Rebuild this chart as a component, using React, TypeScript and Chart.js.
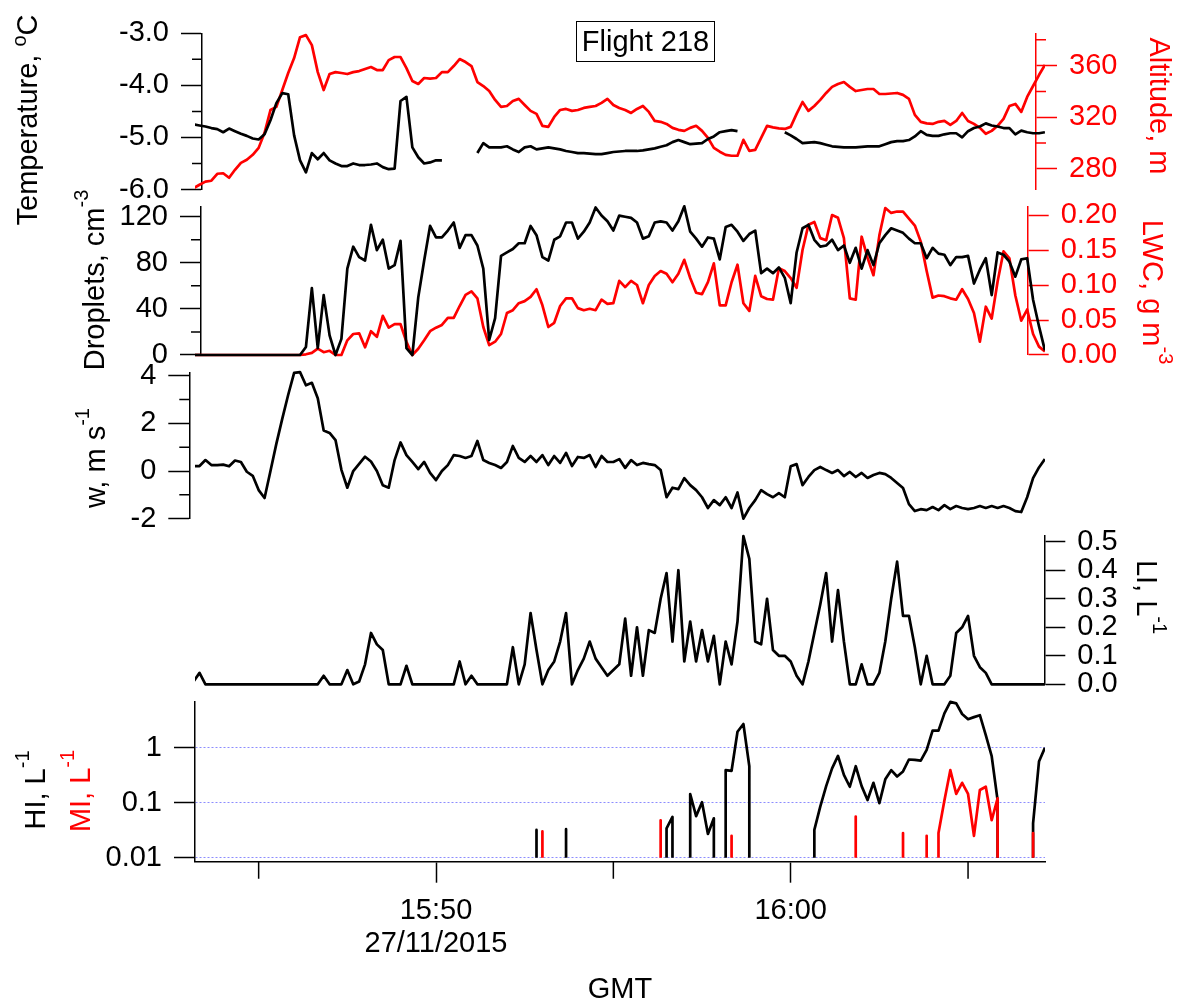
import React, { useEffect, useRef } from "react";
import { Chart, registerables } from "chart.js";

Chart.register(...registerables);

const FONT = "'Liberation Sans', Arial, Helvetica, sans-serif";
Chart.defaults.font.family = FONT;

// ---------------- data (10 s samples) ----------------
const START_CLOCK = "15:43:10";
const STEP_SECONDS = 10;

const temperature = [
  -4.75,-4.77,-4.79,-4.82,-4.84,-4.90,-4.83,-4.88,-4.93,-4.97,
  -5.02,-5.04,-4.94,-4.67,-4.34,-4.15,-4.17,-4.96,-5.44,-5.67,
  -5.30,-5.42,-5.30,-5.44,-5.50,-5.55,-5.55,-5.50,-5.53,-5.53,
  -5.52,-5.50,-5.57,-5.61,-5.60,-4.30,-4.22,-5.19,-5.38,-5.50,
  -5.48,-5.44,-5.44,null,null,null,null,null,-5.30,-5.11,
  -5.19,-5.19,-5.19,-5.17,-5.23,-5.28,-5.19,-5.17,-5.23,-5.21,
  -5.19,-5.21,-5.23,-5.26,-5.28,-5.30,-5.30,-5.31,-5.32,-5.32,
  -5.30,-5.28,-5.27,-5.26,-5.26,-5.26,-5.25,-5.23,-5.21,-5.18,
  -5.15,-5.09,-5.05,-5.09,-5.13,-5.12,-5.11,-5.03,-4.98,-4.90,
  -4.88,-4.86,-4.88,null,null,null,null,null,null,null,
  -4.90,-4.96,-5.03,-5.11,-5.10,-5.09,-5.11,-5.14,-5.17,-5.18,
  -5.19,-5.19,-5.19,-5.18,-5.17,-5.17,-5.17,-5.13,-5.09,-5.07,
  -5.07,-5.05,-4.98,-4.88,-4.95,-4.97,-4.97,-4.94,-4.92,-4.92,
  -5.00,-4.88,-4.82,-4.79,-4.73,-4.77,-4.79,-4.82,-4.82,-4.94,
  -4.87,-4.90,-4.92,-4.92,-4.90,
];

const altitude = [
  264.9,267.6,270.0,270.7,276.1,276.5,273.0,279.2,284.6,287.0,
  290.8,296.2,307.9,325.6,328.0,341.1,354.3,365.9,382.1,383.7,
  375.9,355.0,341.1,353.5,355.0,354.3,353.5,355.0,355.8,357.4,
  358.9,356.6,356.6,364.3,366.7,366.7,358.1,348.1,345.8,350.4,
  350.0,350.4,355.0,355.0,359.7,365.1,362.8,359.7,347.3,344.2,
  340.3,333.4,328.0,328.7,332.6,334.2,329.5,324.9,322.6,313.3,
  312.5,320.2,325.6,326.4,324.9,325.6,327.2,328.0,328.7,331.1,
  334.2,329.5,327.2,325.6,323.3,326.4,328.7,324.1,317.1,316.4,
  314.8,311.7,310.2,309.4,311.7,313.3,309.4,304.0,296.2,293.2,
  290.8,290.1,290.1,302.4,293.9,294.7,304.0,313.3,312.1,311.3,
  310.9,312.5,322.6,331.8,324.9,328.7,333.4,338.8,343.5,345.8,
  347.3,343.5,340.3,341.1,341.9,341.9,338.0,338.0,338.4,338.8,
  337.3,334.2,321.8,316.4,315.2,314.8,316.4,317.1,314.0,317.1,
  323.3,317.1,314.8,311.7,307.1,309.4,313.3,318.7,328.7,330.3,
  324.1,335.7,344.2,352.7,360.5,
];

const droplets = [
  0,0,0,0,0,0,0,0,0,0,
  0,0,0,0,0,0,0,0,0,7,
  58,6,52,17,0,14,75,94,85,82,
  113,91,100,75,78,99,6,0,50,82,
  112,102,102,108,115,93,104,104,95,75,
  13,32,86,89,92,97,97,112,104,85,
  82,100,103,115,115,101,107,115,128,121,
  116,108,121,120,119,115,101,103,115,116,
  115,108,116,129,107,101,94,102,101,83,
  111,113,107,99,105,108,71,75,71,76,
  67,45,89,110,113,100,94,95,100,91,
  95,80,93,75,91,78,97,104,110,108,
  106,101,97,97,84,93,88,87,78,85,
  85,86,62,74,84,52,89,87,81,68,
  83,84,48,25,4,
];

const lwc = [
  0,0,0,0,0,0,0,0,0,0,
  0,0,0,0,0,0,0,0,0,0.001,
  0.003,0.009,0.004,0.006,0,0,0.021,0.030,0.031,0.011,
  0.034,0.026,0.056,0.039,0.044,0.044,0.019,0,0.009,0.021,
  0.034,0.039,0.043,0.053,0.053,0.070,0.086,0.091,0.081,0.040,
  0.014,0.019,0.030,0.060,0.064,0.074,0.077,0.083,0.094,0.071,
  0.040,0.046,0.070,0.081,0.081,0.067,0.064,0.066,0.064,0.079,
  0.073,0.074,0.106,0.097,0.106,0.100,0.074,0.100,0.113,0.120,
  0.116,0.104,0.116,0.136,0.110,0.089,0.087,0.104,0.131,0.071,
  0.071,0.104,0.129,0.074,0.063,0.113,0.084,0.080,0.079,0.124,
  0.120,0.110,0.096,0.150,0.186,0.190,0.167,0.164,0.200,0.196,
  0.167,0.081,0.079,0.169,0.139,0.114,0.171,0.210,0.203,0.205,
  0.205,0.195,0.185,0.162,0.120,0.082,0.085,0.084,0.081,0.079,
  0.094,0.080,0.060,0.019,0.069,0.052,0.105,0.148,0.138,0.085,
  0.049,0.065,0.030,0.012,0.005,
];

const verticalWind = [
  0.21,0.21,0.46,0.25,0.25,0.27,0.20,0.44,0.38,-0.03,
  -0.20,-0.80,-1.13,0.00,1.15,2.20,3.20,4.12,4.15,3.60,
  3.70,3.05,1.70,1.60,1.30,0.05,-0.70,0.00,0.30,0.60,
  0.40,0.00,-0.60,-0.70,0.46,1.20,0.67,0.38,0.08,0.38,
  -0.08,-0.38,0.00,0.25,0.67,0.63,0.55,0.63,1.26,0.46,
  0.34,0.25,0.13,0.38,1.05,0.55,0.38,0.63,0.38,0.67,
  0.25,0.63,0.34,0.76,0.21,0.59,0.55,0.67,0.17,0.63,
  0.38,0.38,0.50,0.13,0.46,0.25,0.34,0.29,0.25,0.04,
  -1.10,-0.70,-0.76,-0.30,-0.59,-0.80,-1.10,-1.55,-1.22,-1.43,
  -1.10,-1.55,-0.90,-2.00,-1.55,-1.22,-0.80,-0.97,-1.10,-0.93,
  -1.10,0.20,0.29,-0.59,-0.25,0.04,0.17,0.04,-0.08,0.04,
  -0.21,-0.04,-0.25,-0.08,-0.29,-0.17,-0.08,-0.13,-0.29,-0.50,
  -0.71,-1.39,-1.68,-1.60,-1.64,-1.51,-1.64,-1.43,-1.60,-1.47,
  -1.55,-1.60,-1.55,-1.47,-1.55,-1.47,-1.55,-1.47,-1.55,-1.68,
  -1.72,-1.10,-0.30,0.15,0.50,
];

const liConc = [
  0.01,0.04,0,0,0,0,0,0,0,0,
  0,0,0,0,0,0,0,0,0,0,
  0,0,0.03,0,0,0,0.05,0,0.01,0.07,
  0.18,0.14,0.12,0,0,0,0.065,0,0,0,
  0,0,0,0,0,0.08,0,0.03,0,0,
  0,0,0,0,0.13,0,0.07,0.25,0.12,0,
  0.05,0.08,0.15,0.25,0,0.05,0.09,0.15,0.09,0.06,
  0.03,0.05,0.07,0.23,0.03,0.20,0.03,0.19,0.18,0.30,
  0.39,0.15,0.40,0.08,0.22,0.08,0.19,0.08,0.17,0,
  0.15,0.07,0.22,0.52,0.44,0.15,0.14,0.30,0.12,0.10,
  0.10,0.08,0.03,0,0.08,0.18,0.28,0.39,0.15,0.33,
  0.15,0,0,0.07,0,0,0.04,0.15,0.30,0.43,
  0.24,0.24,0.13,0,0.10,0,0,0,0.03,0.18,
  0.20,0.24,0.10,0.06,0.04,0,0,0,0,0,
  0,0,0,0,0,
];

const hiConc = [
  0,0,0,0,0,0,0,0,0,0,
  0,0,0,0,0,0,0,0,0,0,
  0,0,0,0,0,0,0,0,0,0,
  0,0,0,0,0,0,0,0,0,0,
  0,0,0,0,0,0,0,0,0,0,
  0,0,0,0,0,0,0,0,0.032,0,
  0,0,0,0.033,0,0,0,0,0,0,
  0,0,0,0,0,0,0,0,0,0,
  0.034,0.055,0,0,0.144,0.057,0.102,0.027,0.052,0,
  0.39,0.38,1.95,2.7,0.46,0,0,0,0,0,
  0,0,0,0,0,0.032,0.085,0.2,0.42,0.71,
  0.32,0.195,0.46,0.2,0.112,0.23,0.098,0.266,0.39,0.3,
  0.37,0.61,0.6,0.58,0.91,2.04,2.04,4.2,6.8,6.4,
  4.1,3.3,3.6,3.9,1.7,0.7,0.11,0,0,0,
  0,0,0.042,0.56,1.0,
];

const miConc = [
  0,0,0,0,0,0,0,0,0,0,
  0,0,0,0,0,0,0,0,0,0,
  0,0,0,0,0,0,0,0,0,0,
  0,0,0,0,0,0,0,0,0,0,
  0,0,0,0,0,0,0,0,0,0,
  0,0,0,0,0,0,0,0,0,0.030,
  0,0,0,0,0,0,0,0,0,0,
  0,0,0,0,0,0,0,0,0,0.048,
  0,0,0,0,0,0,0,0,0,0,
  0,0.025,0,0,0,0,0,0,0,0,
  0,0,0,0,0,0,0,0,0,0,
  0,0,0.056,0,0,0,0,0,0,0,
  0.028,0,0,0,0.025,0,0.028,0.11,0.39,0.144,
  0.23,0.144,0.025,0.17,0.195,0.048,0.12,0,0,0,
  0,0,0.028,0,0,
];

// ---------------- axis ticks ----------------
const tempTicks = [-6, -5, -4, -3];
const tempMinor = [-5.5, -4.5, -3.5];
const altTicks = [280, 320, 360];
const altMinor = [300, 340, 380];
const dropTicks = [0, 40, 80, 120];
const dropMinor = [20, 60, 100];
const lwcTicks = [0, 0.05, 0.1, 0.15, 0.2];
const wTicks = [-2, 0, 2, 4];
const wMinor = [-1, 1, 3];
const liTicks = [0, 0.1, 0.2, 0.3, 0.4, 0.5];
const hiTicks = [0.01, 0.1, 1];
const timeMajor = ["15:50", "16:00"];
const timeMinor = ["15:45", "15:55", "16:05"];
const dateLabel = "27/11/2015";

// ---------------- layout ----------------
const W = 1192;
const H = 1001;
const RED = "#ff0000";
const BLACK = "#000000";
const LINE_W = 2.7;
const AXIS_W = 1.5;
const TICK_LEN = 21;
const MINOR_LEN = 10;
const FS = 29;
const SUP = 20;

const toSec = (hms: string) => {
  const p = hms.split(":").map(Number);
  return p[0] * 3600 + p[1] * 60 + (p[2] || 0);
};
const T0 = toSec(START_CLOCK);
const times = temperature.map((_, i) => T0 + i * STEP_SECONDS);

const REF_SEC = toSec("16:00");
const REF_PX = 790.7;
const PX_PER_SEC = 35.47 / 60;
const PLOT_LEFT = 195;
const PLOT_RIGHT = 1045;
const secAt = (px: number) => REF_SEC + (px - REF_PX) / PX_PER_SEC;

const pts = (arr: (number | null)[]) => arr.map((v, i) => ({ x: times[i], y: v }));

const LOG_FLOOR = 1e-4;
function logRuns(arr: number[]) {
  const out: { x: number; y: number | null }[] = [];
  const n = arr.length;
  for (let i = 0; i < n; i++) {
    const v = arr[i];
    if (!(v > 0)) continue;
    const prevOn = i > 0 && arr[i - 1] > 0;
    const nextOn = i < n - 1 && arr[i + 1] > 0;
    if (!prevOn) {
      if (out.length) out.push({ x: times[i], y: null });
      if (i > 0) out.push({ x: times[i], y: LOG_FLOOR });
    }
    out.push({ x: times[i], y: v });
    if (!nextOn && i < n - 1) out.push({ x: times[i], y: LOG_FLOOR });
  }
  return out;
}

const font = (size: number) => `${size}px ${FONT}`;

type Part = { t: string; sup?: boolean; rise?: number };
type TitleSpec = { parts: Part[]; x: number; y: number; rot: number; color: string };

const richTitles = {
  id: "richTitles",
  afterDraw(chart: any, _a: any, opts: any) {
    const ctx = chart.ctx as CanvasRenderingContext2D;
    (opts.items || []).forEach((t: TitleSpec) => {
      ctx.save();
      ctx.translate(t.x, t.y);
      ctx.rotate((t.rot * Math.PI) / 180);
      ctx.fillStyle = t.color;
      ctx.textBaseline = "alphabetic";
      ctx.textAlign = "left";
      const widths = t.parts.map((p) => {
        ctx.font = font(p.sup ? SUP : FS);
        return ctx.measureText(p.t).width;
      });
      const total = widths.reduce((a, b) => a + b, 0);
      let x = -total / 2;
      t.parts.forEach((p, k) => {
        ctx.font = font(p.sup ? SUP : FS);
        ctx.fillText(p.t, x, -(p.rise || 0));
        x += widths[k];
      });
      ctx.restore();
    });
  },
};

const minorTicks = {
  id: "minorTicks",
  afterDraw(chart: any, _a: any, opts: any) {
    const ctx = chart.ctx as CanvasRenderingContext2D;
    (opts.items || []).forEach((m: any) => {
      const s = chart.scales[m.scale];
      if (!s) return;
      ctx.save();
      ctx.strokeStyle = m.color;
      ctx.lineWidth = AXIS_W;
      ctx.beginPath();
      m.values.forEach((v: number) => {
        const p = s.getPixelForValue(v);
        if (s.isHorizontal()) {
          ctx.moveTo(p, s.top);
          ctx.lineTo(p, s.top + m.length);
        } else if (s.position === "left") {
          ctx.moveTo(s.right, p);
          ctx.lineTo(s.right - m.length, p);
        } else {
          ctx.moveTo(s.left, p);
          ctx.lineTo(s.left + m.length, p);
        }
      });
      ctx.stroke();
      ctx.restore();
    });
  },
};

function yAxis(o: {
  position: "left" | "right";
  min: number;
  max: number;
  ticks: number[];
  fmt: (v: number) => string;
  color: string;
  width: number;
  type?: string;
  gridLines?: boolean;
}) {
  return {
    type: o.type || "linear",
    position: o.position,
    min: o.min,
    max: o.max,
    bounds: "data",
    afterBuildTicks: (s: any) => {
      s.ticks = o.ticks.map((v) => ({ value: v }));
    },
    afterFit: (s: any) => {
      s.width = o.width;
    },
    ticks: {
      color: o.color,
      font: { family: FONT, size: FS },
      padding: 12,
      autoSkip: false,
      maxRotation: 0,
      callback: (v: any) => o.fmt(Number(v)),
    },
    grid: {
      display: true,
      drawOnChartArea: !!o.gridLines,
      drawTicks: true,
      tickLength: TICK_LEN,
      tickWidth: AXIS_W,
      tickColor: o.color,
      color: o.gridLines ? "rgba(120,120,255,0.85)" : o.color,
      lineWidth: 1,
      tickBorderDash: [],
    },
    border: { display: true, color: o.color, width: AXIS_W, dash: o.gridLines ? [2, 2] : [] },
  };
}

type Panel = {
  left: number;
  right: number;
  top: number;
  bottom: number;
  padLeft: number;
  padRight: number;
  datasets: any[];
  scales: any;
  showX?: boolean;
  titles: TitleSpec[];
  minors: any[];
};

function makeConfig(p: Panel) {
  const xMin = secAt(p.left);
  const xMax = secAt(p.right);
  // range set after data limits so that every sample is handed to the line (clipping does the rest)
  const setRange = (s: any) => {
    s.min = xMin;
    s.max = xMax;
  };
  const xScale = p.showX
    ? {
        type: "linear",
        position: "bottom",
        bounds: "data",
        afterDataLimits: setRange,
        afterBuildTicks: (s: any) => {
          s.ticks = timeMajor.map((t) => ({ value: toSec(t) }));
        },
        afterFit: (s: any) => {
          s.height = H - p.bottom;
        },
        ticks: {
          color: BLACK,
          font: { family: FONT, size: FS, lineHeight: 1.14 },
          padding: 12,
          autoSkip: false,
          maxRotation: 0,
          callback: (v: any) => {
            const k = timeMajor.findIndex((t) => toSec(t) === Number(v));
            if (k < 0) return "";
            return k === 0 ? [timeMajor[k], dateLabel] : timeMajor[k];
          },
        },
        grid: {
          display: true,
          drawOnChartArea: false,
          drawTicks: true,
          tickLength: TICK_LEN,
          tickWidth: AXIS_W,
          tickColor: BLACK,
        },
        border: { display: true, color: BLACK, width: AXIS_W },
      }
    : { type: "linear", display: false, bounds: "data", afterDataLimits: setRange };

  return {
    type: "line",
    data: {
      datasets: p.datasets.map((d) => ({
        pointRadius: 0,
        pointHoverRadius: 0,
        borderWidth: LINE_W,
        tension: 0,
        fill: false,
        spanGaps: false,
        borderJoinStyle: "round",
        ...d,
        clip: {
          left: p.left - PLOT_LEFT,
          right: PLOT_RIGHT - p.right,
          top: 3,
          bottom: d.clipBottom !== undefined ? d.clipBottom : 3,
        },
      })),
    },
    options: {
      animation: false,
      responsive: false,
      maintainAspectRatio: false,
      events: [],
      layout: {
        padding: {
          left: p.padLeft,
          right: p.padRight,
          top: p.top,
          bottom: p.showX ? 0 : H - p.bottom,
        },
      },
      plugins: {
        legend: { display: false },
        tooltip: { enabled: false },
        title: { display: false },
        richTitles: { items: p.titles },
        minorTicks: { items: p.minors },
      },
      scales: { x: xScale, ...p.scales },
    },
    plugins: [richTitles, minorTicks],
  };
}

// Panel 1: temperature & altitude
const panel1: Panel = {
  left: 202, right: 1036, top: 33.3, bottom: 189.5, padLeft: 0, padRight: 0,
  datasets: [
    { data: pts(temperature), borderColor: BLACK, yAxisID: "yT" },
    { data: pts(altitude), borderColor: RED, yAxisID: "yA" },
  ],
  scales: {
    yT: yAxis({ position: "left", min: -6, max: -3, ticks: tempTicks, fmt: (v) => v.toFixed(1), color: BLACK, width: 202 }),
    yA: yAxis({ position: "right", min: 263.9, max: 385.1, ticks: altTicks, fmt: (v) => v.toFixed(0), color: RED, width: W - 1036 }),
  },
  titles: [
    { parts: [{ t: "Temperature, " }, { t: "o", sup: true, rise: 11 }, { t: "C" }], x: 37, y: 120, rot: -90, color: BLACK },
    { parts: [{ t: "Altitude, m" }], x: 1150, y: 106, rot: 90, color: RED },
  ],
  minors: [
    { scale: "yT", values: tempMinor, length: MINOR_LEN, color: BLACK },
    { scale: "yA", values: altMinor, length: MINOR_LEN, color: RED },
  ],
};

// Panel 2: droplets & LWC
const panel2: Panel = {
  left: 201, right: 1027.7, top: 206.7, bottom: 355, padLeft: 0, padRight: 0,
  datasets: [
    { data: pts(droplets), borderColor: BLACK, yAxisID: "yD" },
    { data: pts(lwc), borderColor: RED, yAxisID: "yL" },
  ],
  scales: {
    yD: yAxis({ position: "left", min: 0, max: 128.7, ticks: dropTicks, fmt: (v) => v.toFixed(0), color: BLACK, width: 201 }),
    yL: yAxis({ position: "right", min: 0, max: 0.2119, ticks: lwcTicks, fmt: (v) => v.toFixed(2), color: RED, width: W - 1027.7 }),
  },
  titles: [
    { parts: [{ t: "Droplets, cm" }, { t: "-3", sup: true, rise: 16 }], x: 104, y: 280, rot: -90, color: BLACK },
    { parts: [{ t: "LWC, g m" }, { t: "-3", sup: true, rise: 16 }], x: 1143, y: 292, rot: 90, color: RED },
  ],
  minors: [{ scale: "yD", values: dropMinor, length: MINOR_LEN, color: BLACK }],
};

// Panel 3: vertical wind
const panel3: Panel = {
  left: 189.3, right: 1045, top: 372.7, bottom: 518.7, padLeft: 0, padRight: W - 1045,
  datasets: [{ data: pts(verticalWind), borderColor: BLACK, yAxisID: "yW" }],
  scales: {
    yW: yAxis({ position: "left", min: -2, max: 4.126, ticks: wTicks, fmt: (v) => v.toFixed(0), color: BLACK, width: 189.3 }),
  },
  titles: [
    { parts: [{ t: "w, m s" }, { t: "-1", sup: true, rise: 16 }], x: 105, y: 458, rot: -90, color: BLACK },
  ],
  minors: [{ scale: "yW", values: wMinor, length: MINOR_LEN, color: BLACK }],
};

// Panel 4: LI
const panel4: Panel = {
  left: 195, right: 1044.3, top: 536, bottom: 684.3, padLeft: 195, padRight: 0,
  datasets: [{ data: pts(liConc), borderColor: BLACK, yAxisID: "yLI" }],
  scales: {
    yLI: yAxis({ position: "right", min: 0, max: 0.52, ticks: liTicks, fmt: (v) => v.toFixed(1), color: BLACK, width: W - 1044.3 }),
  },
  titles: [
    { parts: [{ t: "LI, L" }, { t: "-1", sup: true, rise: 16 }], x: 1137, y: 597, rot: 90, color: BLACK },
  ],
  minors: [],
};

// Panel 5: HI & MI (log)
const panel5: Panel = {
  left: 195, right: 1045, top: 701.7, bottom: 861.7, padLeft: 0, padRight: W - 1045, showX: true,
  datasets: [
    { data: logRuns(miConc), borderColor: RED, yAxisID: "yH", clipBottom: -4 },
    { data: logRuns(hiConc), borderColor: BLACK, yAxisID: "yH", clipBottom: -4 },
  ],
  scales: {
    yH: yAxis({
      type: "logarithmic", position: "left", min: 0.00846, max: 6.86, ticks: hiTicks,
      fmt: (v) => (v >= 1 ? v.toFixed(0) : v >= 0.1 ? v.toFixed(1) : v.toFixed(2)),
      color: BLACK, width: 195, gridLines: true,
    }),
  },
  titles: [
    { parts: [{ t: "HI, L" }, { t: "-1", sup: true, rise: 16 }], x: 45, y: 790, rot: -90, color: BLACK },
    { parts: [{ t: "MI, L" }, { t: "-1", sup: true, rise: 16 }], x: 90, y: 791, rot: -90, color: RED },
    { parts: [{ t: "GMT" }], x: 620, y: 998, rot: 0, color: BLACK },
  ],
  minors: [{ scale: "x", values: timeMinor.map(toSec), length: 17, color: BLACK }],
};

function PanelChart({ panel }: { panel: Panel }) {
  const ref = useRef<HTMLCanvasElement | null>(null);
  useEffect(() => {
    if (!ref.current) return;
    const chart = new Chart(ref.current, makeConfig(panel) as any);
    return () => chart.destroy();
  }, [panel]);
  return (
    <canvas
      ref={ref}
      width={W}
      height={H}
      style={{ position: "absolute", left: 0, top: 0, width: W, height: H, display: "block" }}
    />
  );
}

export default function App() {
  return (
    <div style={{ position: "absolute", left: 0, top: 0, width: W, height: H, background: "#fff", overflow: "hidden" }}>
      <PanelChart panel={panel1} />
      <PanelChart panel={panel2} />
      <PanelChart panel={panel3} />
      <PanelChart panel={panel4} />
      <PanelChart panel={panel5} />
      <div
        style={{
          position: "absolute",
          left: 576,
          top: 21,
          width: 139,
          height: 41,
          boxSizing: "border-box",
          border: "1.3px solid #000",
          display: "flex",
          alignItems: "center",
          justifyContent: "center",
          fontFamily: FONT,
          fontSize: FS,
          color: "#000",
          background: "transparent",
        }}
      >
        Flight 218
      </div>
    </div>
  );
}
